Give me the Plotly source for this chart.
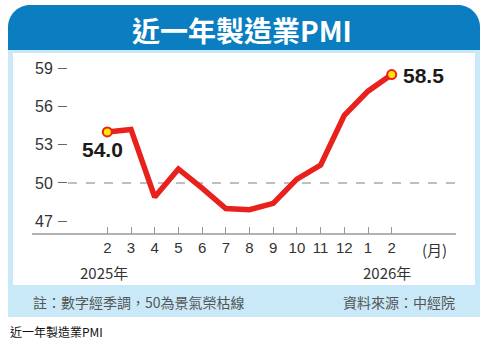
import plotly.graph_objects as go

# Manufacturing PMI, Feb 2025 – Feb 2026 (seasonally adjusted)
months = ["2", "3", "4", "5", "6", "7", "8", "9", "10", "11", "12", "1", "2"]
pmi = [54.0, 54.2, 48.9, 51.1, 49.6, 48.0, 47.9, 48.4, 50.3, 51.4, 55.3, 57.2, 58.5]
y_ticks = [47, 50, 53, 56, 59]
year_labels = ["2025年", "2026年"]
title_text = "近一年製造業PMI"
note_text = "註：數字經季調，50為景氣榮枯線"
source_text = "資料來源：中經院"
caption_text = "近一年製造業PMI"

W_PX, H_PX = 488, 343
L, R, T, B = 68, 456, 58, 234          # plot area in pixels
PW, PH = R - L, B - T

BLUE = "#0b7dc1"
LIGHT = "#c9e9f8"
RED = "#e8211d"
TXT = "#333333"
CJK = "Noto Sans CJK TC"


def px(x):
    return (x - L) / PW


def py(y):
    return (B - y) / PH


xs = list(range(len(months)))

fig = go.Figure()
fig.add_trace(go.Scatter(
    x=xs, y=pmi, mode="lines",
    line=dict(color=RED, width=5.5, shape="linear"),
    hoverinfo="skip", showlegend=False,
))
ends = [0, len(pmi) - 1]
fig.add_trace(go.Scatter(
    x=[xs[i] for i in ends], y=[pmi[i] for i in ends], mode="markers",
    marker=dict(size=9, color="#ffe500", line=dict(color=RED, width=2)),
    hoverinfo="skip", showlegend=False,
))

shapes = []
# light blue frame + white panel + footer band
shapes.append(dict(type="rect", xref="paper", yref="paper", layer="below",
                   x0=px(8), x1=px(480), y0=py(317), y1=py(40),
                   fillcolor=LIGHT, line=dict(width=0)))
shapes.append(dict(type="rect", xref="paper", yref="paper", layer="below",
                   x0=px(13), x1=px(475), y0=py(285), y1=py(53),
                   fillcolor="white", line=dict(width=0)))
# header with rounded top corners
r = 22
k = 0.55 * r
x0h, x1h, y0h, y1h = 8, 480, 5, 50
path = (
    f"M {px(x0h)},{py(y1h)} L {px(x0h)},{py(y0h + r)} "
    f"C {px(x0h)},{py(y0h + r - k)} {px(x0h + r - k)},{py(y0h)} {px(x0h + r)},{py(y0h)} "
    f"L {px(x1h - r)},{py(y0h)} "
    f"C {px(x1h - r + k)},{py(y0h)} {px(x1h)},{py(y0h + r - k)} {px(x1h)},{py(y0h + r)} "
    f"L {px(x1h)},{py(y1h)} Z"
)
shapes.append(dict(type="path", path=path, xref="paper", yref="paper", layer="below",
                   fillcolor=BLUE, line=dict(width=0)))
# 50 boom-bust reference line
shapes.append(dict(type="line", xref="paper", yref="y", x0=0, x1=1, y0=50, y1=50,
                   line=dict(color="#aaaaaa", width=1.5, dash="dash"), layer="below"))
# baseline
shapes.append(dict(type="line", xref="paper", yref="paper", x0=px(32), x1=1, y0=0, y1=0,
                   line=dict(color="#999999", width=1.5)))

ann = []
ann.append(dict(text=f"<b>{title_text}</b>", xref="paper", yref="paper",
                x=px(242), y=py(30), showarrow=False,
                font=dict(family=CJK, size=28, color="white"),
                xanchor="center", yanchor="middle"))
ann.append(dict(text=f"<b>{pmi[0]:.1f}</b>", xref="x", yref="y", x=xs[0], y=pmi[0],
                xshift=-5, yshift=-18, showarrow=False,
                font=dict(family="Liberation Sans", size=21, color="#1a1a1a"),
                xanchor="center", yanchor="middle"))
ann.append(dict(text=f"<b>{pmi[-1]:.1f}</b>", xref="x", yref="y", x=xs[-1], y=pmi[-1],
                xshift=9, yshift=-1, showarrow=False,
                font=dict(family="Liberation Sans", size=21, color="#1a1a1a"),
                xanchor="left", yanchor="middle"))
ann.append(dict(text="(月)", xref="paper", yref="paper", x=px(434), y=py(249),
                showarrow=False, font=dict(family=CJK, size=15, color=TXT),
                xanchor="center", yanchor="middle"))
ann.append(dict(text=year_labels[0], xref="x", yref="paper", x=xs[0], y=py(272),
                xshift=-3, showarrow=False, font=dict(family=CJK, size=15, color=TXT),
                xanchor="center", yanchor="middle"))
ann.append(dict(text=year_labels[1], xref="x", yref="paper", x=xs[-1], y=py(272),
                xshift=-5, showarrow=False, font=dict(family=CJK, size=15, color=TXT),
                xanchor="center", yanchor="middle"))
ann.append(dict(text=note_text, xref="paper", yref="paper", x=px(31), y=py(302),
                showarrow=False, font=dict(family=CJK, size=14, color="#555555"),
                xanchor="left", yanchor="middle"))
ann.append(dict(text=source_text, xref="paper", yref="paper", x=px(457), y=py(302),
                showarrow=False, font=dict(family=CJK, size=14, color="#555555"),
                xanchor="right", yanchor="middle"))
ann.append(dict(text=caption_text, xref="paper", yref="paper", x=px(8), y=py(331),
                showarrow=False, font=dict(family=CJK, size=12, color="#111111"),
                xanchor="left", yanchor="middle"))

fig.update_layout(
    width=W_PX, height=H_PX,
    margin=dict(l=L, r=W_PX - R, t=T, b=H_PX - B, pad=0),
    paper_bgcolor="white", plot_bgcolor="rgba(0,0,0,0)",
    shapes=shapes, annotations=ann, showlegend=False,
    xaxis=dict(
        range=[-1.658, 14.713], tickmode="array", tickvals=xs, ticktext=months,
        ticks="inside", ticklen=7, tickwidth=1, tickcolor="#999999",
        showgrid=False, zeroline=False, showline=False,
        tickfont=dict(family="Liberation Sans", size=15, color=TXT),
        ticklabelstandoff=3, fixedrange=True,
    ),
    yaxis=dict(
        range=[46, 59.8], tickmode="array", tickvals=y_ticks,
        ticks="outside", ticklen=9, tickwidth=1, tickcolor="#666666",
        showgrid=False, zeroline=False, showline=False,
        tickfont=dict(family="Liberation Sans", size=16, color=TXT),
        ticklabelstandoff=2, fixedrange=True,
    ),
)

fig.write_html("out.html")
